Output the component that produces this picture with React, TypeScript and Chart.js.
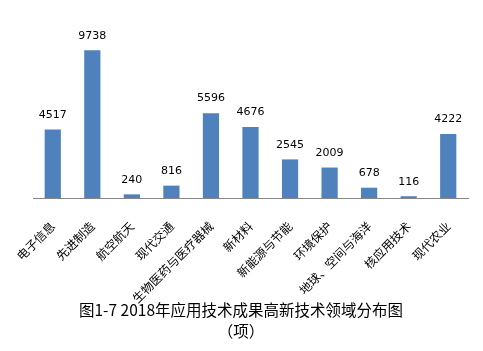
import React, { useEffect, useRef } from "react";
import { Chart, registerables } from "chart.js";

Chart.register(...registerables);

const categories = [
  "电子信息",
  "先进制造",
  "航空航天",
  "现代交通",
  "生物医药与医疗器械",
  "新材料",
  "新能源与节能",
  "环境保护",
  "地球、空间与海洋",
  "核应用技术",
  "现代农业",
];
const values = [4517, 9738, 240, 816, 5596, 4676, 2545, 2009, 678, 116, 4222];
const titleLines = ["图1-7 2018年应用技术成果高新技术领域分布图", "（项）"];

const labelPlugin = {
  id: "valueLabels",
  afterDatasetsDraw(chart: any) {
    const ctx = chart.ctx;
    const meta = chart.getDatasetMeta(0);
    ctx.save();
    ctx.font = "11px 'DejaVu Sans', sans-serif";
    ctx.fillStyle = "#000000";
    ctx.textAlign = "center";
    ctx.textBaseline = "bottom";
    meta.data.forEach((bar: any, i: number) => {
      ctx.fillText(String(values[i]), bar.x, bar.y - 9);
    });
    ctx.restore();
  },
};

const titlePlugin = {
  id: "bottomTitle",
  afterDraw(chart: any) {
    const ctx = chart.ctx;
    ctx.save();
    ctx.font = "15.5px 'Noto Sans CJK SC', sans-serif";
    ctx.fillStyle = "#000000";
    ctx.textAlign = "center";
    ctx.textBaseline = "middle";
    ctx.fillText(titleLines[0], 241, 310);
    ctx.fillText(titleLines[1], 241, 331);
    ctx.restore();
  },
};

export default function App() {
  const ref = useRef<HTMLCanvasElement>(null);
  useEffect(() => {
    document.body.style.margin = "0";
    const chart = new Chart(ref.current!, {
      type: "bar",
      data: {
        labels: categories,
        datasets: [
          {
            data: values,
            backgroundColor: "#4F81BD",
            categoryPercentage: 1,
            barPercentage: 0.41,
          },
        ],
      },
      options: {
        animation: false,
        responsive: false,
        maintainAspectRatio: false,
        layout: { padding: { left: 33, right: 15, top: 16, bottom: 0 } },
        plugins: {
          legend: { display: false },
          tooltip: { enabled: false },
          title: { display: false },
        },
        scales: {
          y: { display: false, min: 0, max: 12000 },
          x: {
            grid: { display: false },
            border: { display: true, color: "#868686", width: 1 },
            ticks: {
              autoSkip: false,
              minRotation: 45,
              maxRotation: 45,
              padding: 13,
              color: "#000000",
              font: { family: "'Noto Sans CJK SC', sans-serif", size: 12 },
            },
            afterFit(scale: any) {
              scale.height = 153;
            },
          },
        },
      },
      plugins: [labelPlugin, titlePlugin],
    });
    return () => chart.destroy();
  }, []);
  return (
    <div style={{ width: 483, height: 351, background: "#fff" }}>
      <canvas ref={ref} width={483} height={351} style={{ display: "block" }} />
    </div>
  );
}
